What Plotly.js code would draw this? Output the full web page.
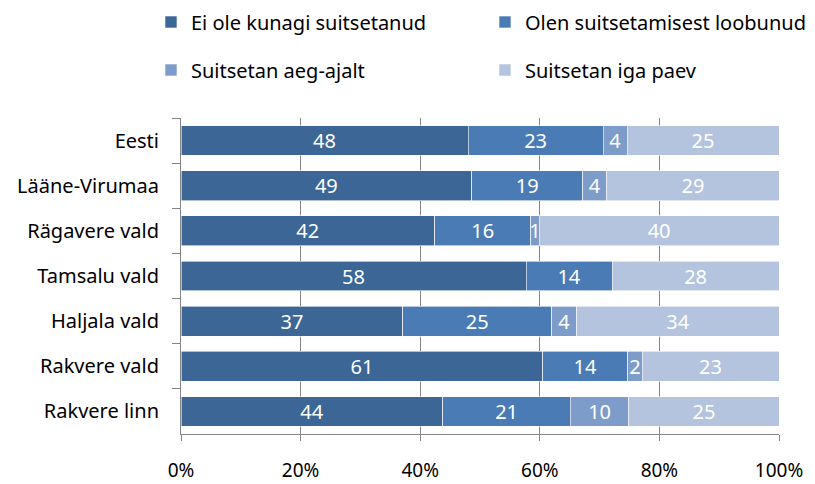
<!DOCTYPE html>
<html>
<head>
<meta charset="utf-8">
<script src="https://cdn.plot.ly/plotly-3.0.1.min.js"></script>
<style>html,body{margin:0;padding:0;background:#fff;}#chart{width:815px;height:484px;}</style>
</head>
<body>
<div id="chart"></div>
<script>
const categories = ["Eesti", "Lääne-Virumaa", "Rägavere vald", "Tamsalu vald", "Haljala vald", "Rakvere vald", "Rakvere linn"];
const seriesNames = ["Ei ole kunagi suitsetanud", "Olen suitsetamisest loobunud", "Suitsetan aeg-ajalt", "Suitsetan iga paev"];
const neverSmoked = [48.0, 48.6, 42.4, 57.7, 37.1, 60.5, 43.8];
const quitSmoking = [22.6, 18.6, 16.1, 14.4, 24.9, 14.2, 21.3];
const occasionally = [4.0, 4.0, 1.4, null, 4.2, 2.4, 9.8];
const daily = [25.4, 28.8, 40.1, 27.9, 33.8, 22.9, 25.1];
const xTicks = [0, 20, 40, 60, 80, 100];

const colors = ["#3c6696", "#4a7bb5", "#7e9cca", "#b4c3de"];
const series = [neverSmoked, quitSmoking, occasionally, daily];
const FONT = "Noto Sans, sans-serif";
const legendIds = ["legend", "legend2", "legend3", "legend4"];

const traces = series.map((vals, i) => ({
  type: "bar",
  orientation: "h",
  name: seriesNames[i],
  y: categories,
  x: vals,
  text: vals.map(v => (v == null ? "" : String(Math.round(v)))),
  textposition: "inside",
  insidetextanchor: "middle",
  textangle: 0,
  constraintext: "none",
  textfont: {family: FONT, size: 20, color: "#ffffff"},
  marker: {color: colors[i], line: {color: "#ffffff", width: 0.6}},
  hoverinfo: "none",
  legend: legendIds[i]
}));

function legendAt(x, y) {
  return {
    orientation: "h",
    xref: "container", yref: "container",
    xanchor: "left", yanchor: "middle",
    x: x / 815, y: 1 - y / 484,
    font: {family: FONT, size: 20, color: "#000000"},
    bgcolor: "rgba(0,0,0,0)"
  };
}

const layout = {
  width: 815, height: 484,
  margin: {l: 181, r: 36, t: 118, b: 50},
  barmode: "stack",
  bargap: 0.34,
  paper_bgcolor: "#ffffff", plot_bgcolor: "#ffffff",
  showlegend: true,
  legend: legendAt(151, 22),
  legend2: legendAt(485, 22),
  legend3: legendAt(151, 70),
  legend4: legendAt(485, 70),
  xaxis: {
    range: [0, 100],
    tickvals: xTicks,
    ticktext: xTicks.map(v => v + "%"),
    showgrid: true, gridcolor: "#868686", gridwidth: 1,
    showline: true, linecolor: "#868686", linewidth: 1,
    ticks: "outside", ticklen: 6, tickcolor: "#868686",
    ticklabelstandoff: 13,
    zeroline: false,
    tickfont: {family: FONT, size: 19, color: "#000000"},
    fixedrange: true
  },
  yaxis: {
    type: "category",
    autorange: "reversed",
    showline: true, linecolor: "#868686", linewidth: 1,
    ticks: "outside", ticklen: 8, tickcolor: "#868686",
    tickson: "boundaries",
    ticklabelstandoff: 17,
    showgrid: false,
    tickfont: {family: FONT, size: 20, color: "#000000"},
    fixedrange: true
  }
};

Plotly.newPlot("chart", traces, layout, {displayModeBar: false, staticPlot: true});
</script>
</body>
</html>
